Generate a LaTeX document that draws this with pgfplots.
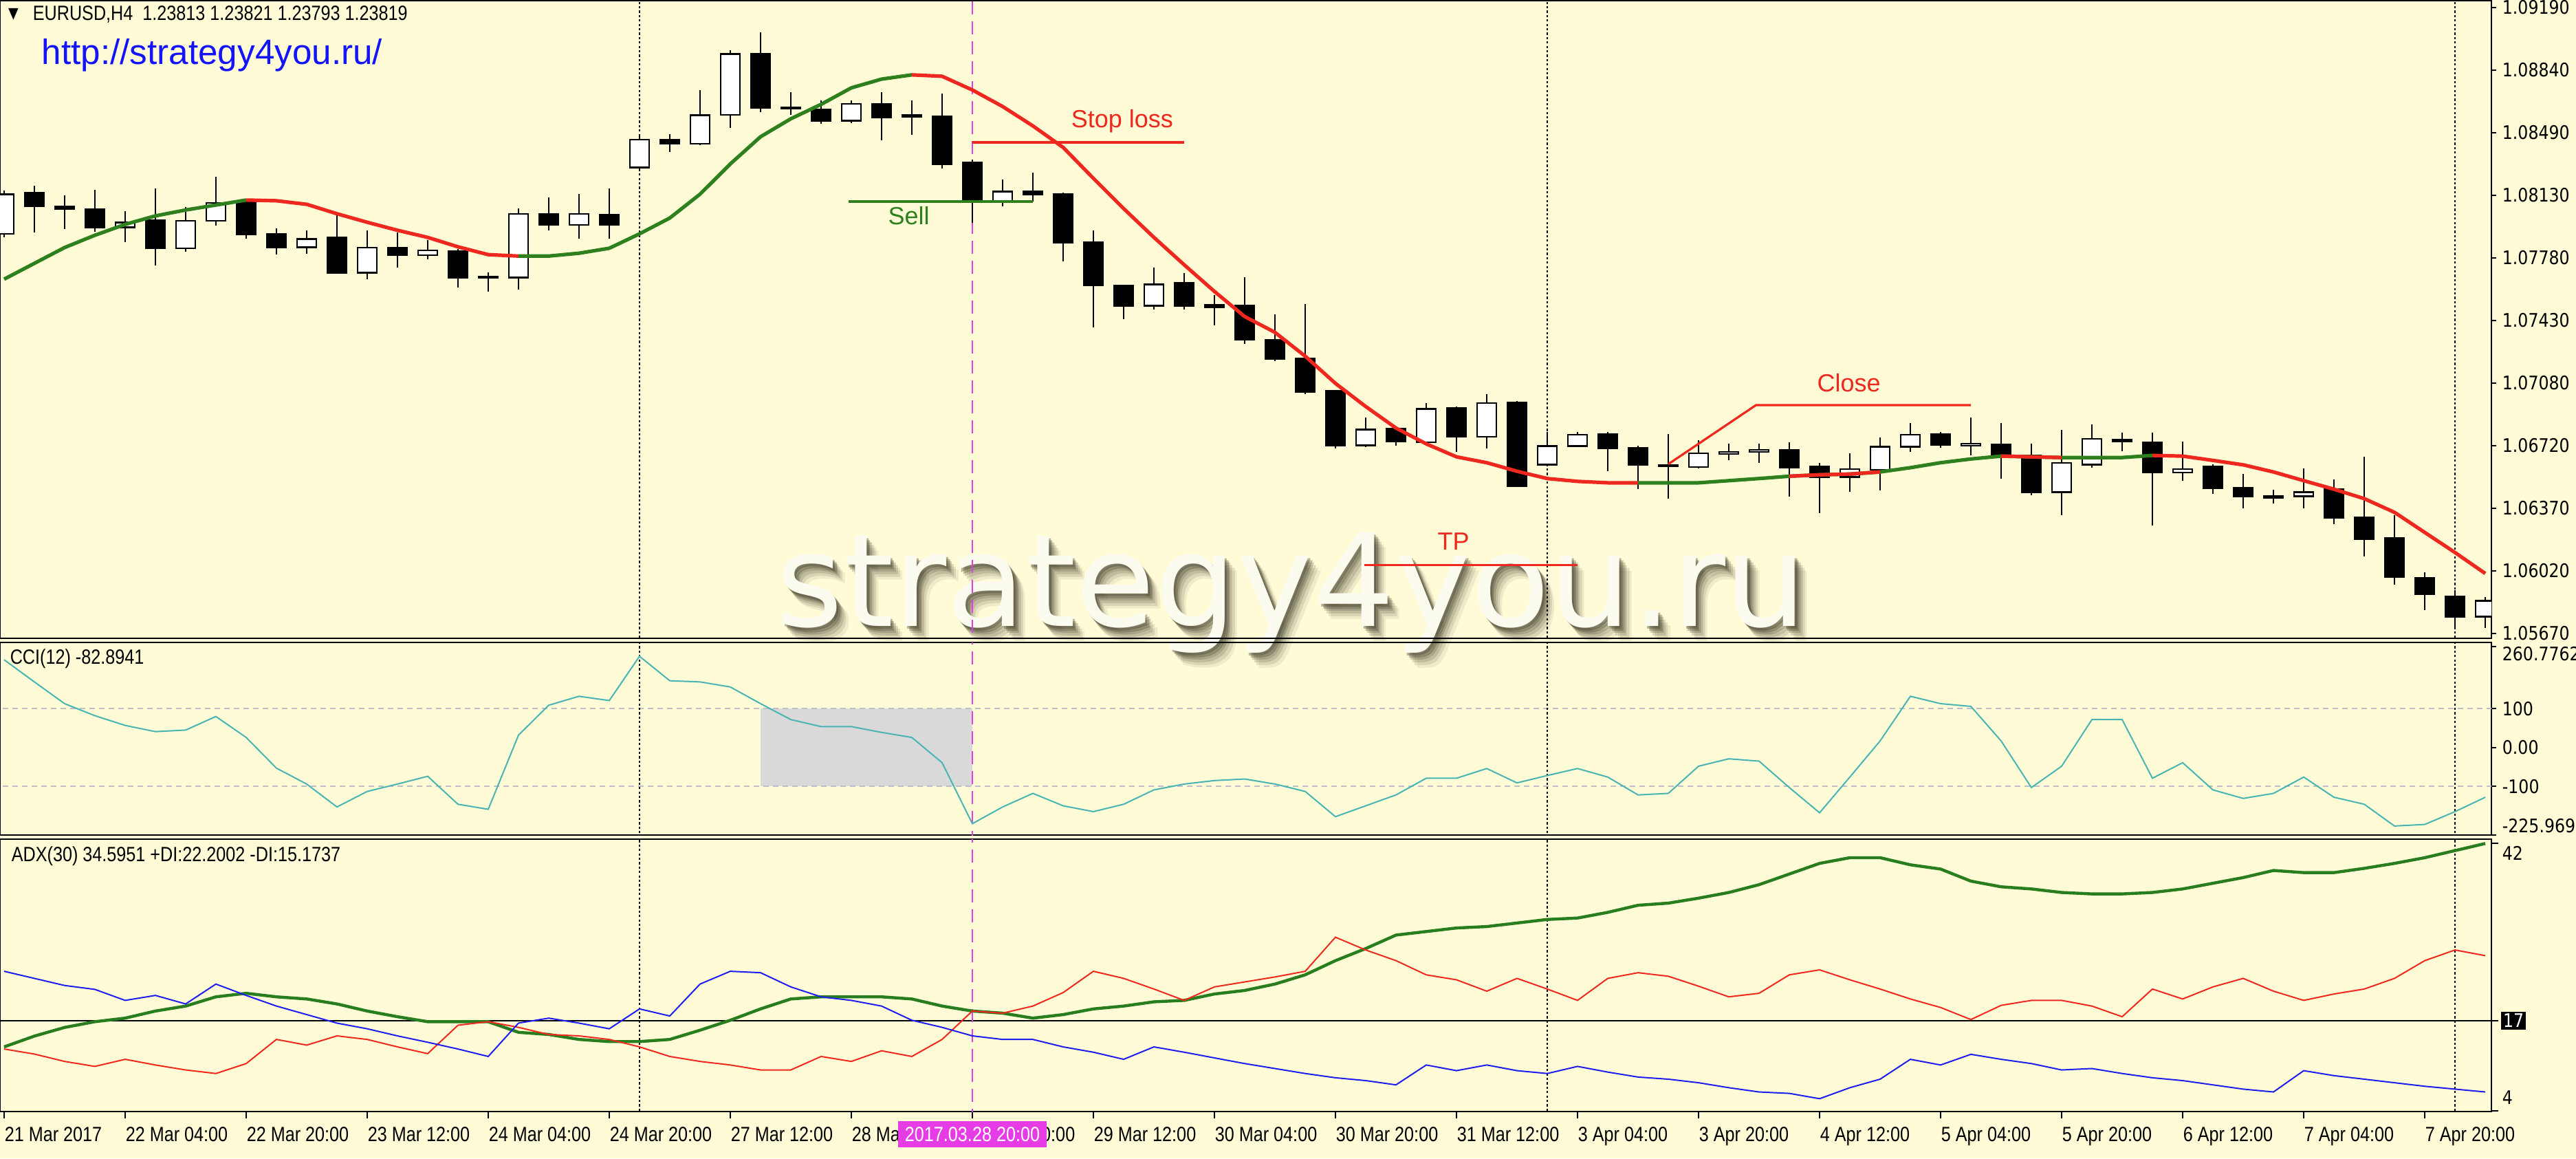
\documentclass[border=0pt]{standalone}
\usepackage{fontspec}
\usepackage{pgfplots}
\pgfplotsset{compat=1.18}
\usepackage{pgfplotstable}
\newfontfamily\mtfont[FakeStretch=0.84]{Liberation Sans}
\newfontfamily\axfont[FakeStretch=0.87]{DejaVu Sans}
\newfontfamily\arialfont{Liberation Sans}
\newfontfamily\wmfont{DejaVu Sans}
\definecolor{bg}{RGB}{255,251,214}
\definecolor{mtgreen}{RGB}{46,128,30}
\definecolor{mtred}{RGB}{238,40,30}
\definecolor{ccicol}{RGB}{72,180,180}
\definecolor{adxgreen}{RGB}{40,125,30}
\definecolor{diblue}{RGB}{30,30,240}
\definecolor{dired}{RGB}{240,40,30}
\definecolor{mtpink}{RGB}{230,60,230}
\definecolor{urlblue}{RGB}{20,20,250}
\definecolor{wmface}{RGB}{252,251,240}
\definecolor{wmshadow}{RGB}{60,56,36}
\definecolor{lvl}{RGB}{190,190,200}

% candle: index, low, body low, body high, high
\newcommand{\cw}[5]{%
 \addplot[black, line width=0.7pt] coordinates {(#1,#2) (#1,#5)};
 \addplot[black, line width=7.6pt, shorten <=-0.3pt, shorten >=-0.3pt] coordinates {(#1,#3) (#1,#4)};
 \addplot[white, line width=6.3pt, shorten <=0.35pt, shorten >=0.35pt] coordinates {(#1,#3) (#1,#4)};}
\newcommand{\cb}[5]{%
 \addplot[black, line width=0.7pt] coordinates {(#1,#2) (#1,#5)};
 \addplot[black, line width=7.6pt, shorten <=-0.3pt, shorten >=-0.3pt] coordinates {(#1,#3) (#1,#4)};}

\pgfplotstableread{
i ma
0 1.07661
1 1.07750
2 1.07839
3 1.07908
4 1.07969
5 1.08017
6 1.08050
7 1.08078
8 1.08106
9 1.08102
10 1.08082
11 1.08029
12 1.07981
13 1.07936
14 1.07896
15 1.07843
16 1.07799
17 1.07791
18 1.07791
19 1.07807
20 1.07835
21 1.07916
22 1.08005
23 1.08139
24 1.08309
25 1.08462
26 1.08563
27 1.08644
28 1.08737
29 1.08786
30 1.08810
31 1.08802
32 1.08725
33 1.08632
34 1.08523
35 1.08402
36 1.08228
37 1.08058
38 1.07896
39 1.07742
40 1.07592
41 1.07451
42 1.07362
43 1.07228
44 1.07075
45 1.06945
46 1.06824
47 1.06735
48 1.06662
49 1.06629
50 1.06581
51 1.06540
52 1.06524
53 1.06516
54 1.06516
55 1.06516
56 1.06516
57 1.06528
58 1.06540
59 1.06553
60 1.06561
61 1.06565
62 1.06577
63 1.06601
64 1.06629
65 1.06650
66 1.06666
67 1.06662
68 1.06658
69 1.06658
70 1.06658
71 1.06670
72 1.06666
73 1.06642
74 1.06617
75 1.06577
76 1.06528
77 1.06480
78 1.06427
79 1.06350
80 1.06237
81 1.06124
82 1.06006
}\matable

\pgfplotstableread{
i cci
0 226
1 169
2 113
3 82
4 57
5 41
6 45
7 80
8 26
9 -53
10 -94
11 -153
12 -113
13 -94
14 -74
15 -146
16 -159
17 32
18 109
19 132
20 121
21 235
22 172
23 169
24 156
25 113
26 72
27 54
28 54
29 39
30 26
31 -39
32 -196
33 -153
34 -118
35 -150
36 -165
37 -146
38 -109
39 -94
40 -85
41 -81
42 -94
43 -113
44 -178
45 -150
46 -122
47 -79
48 -79
49 -54
50 -91
51 -72
52 -54
53 -76
54 -122
55 -118
56 -48
57 -29
58 -35
59 -103
60 -168
61 -76
62 17
63 132
64 113
65 106
66 17
67 -103
68 -48
69 72
70 72
71 -79
72 -39
73 -109
74 -131
75 -118
76 -76
77 -128
78 -146
79 -202
80 -198
81 -165
82 -128
}\ccitable

\pgfplotstableread{
i adx red blue
0 13.35 13.05 24.0
1 14.87 12.34 23.0
2 16.09 11.3 22.0
3 16.9 10.6 21.45
4 17.4 11.6 19.9
5 18.4 10.8 20.6
6 19.1 10.1 19.4
7 20.4 9.6 22.2
8 20.9 11.0 20.6
9 20.4 14.4 19.1
10 20.1 13.6 17.9
11 19.4 14.9 16.7
12 18.4 14.4 15.9
13 17.6 13.35 14.9
14 16.9 12.4 14.0
15 16.9 16.4 13.05
16 16.9 16.9 12.0
17 15.4 16.1 16.7
18 15.1 15.1 17.4
19 14.4 14.9 16.7
20 14.1 14.4 15.9
21 14.1 13.35 18.7
22 14.4 12.0 17.7
23 15.7 11.3 22.2
24 17.1 10.8 24.0
25 18.7 10.1 23.8
26 20.1 10.1 21.8
27 20.4 12.0 20.4
28 20.4 11.3 19.9
29 20.4 12.8 19.1
30 20.1 12.0 17.1
31 19.1 14.4 16.1
32 18.4 18.4 14.9
33 18.1 18.1 14.4
34 17.4 19.1 14.4
35 17.9 21.0 13.35
36 18.7 24.0 12.6
37 19.1 23.0 11.6
38 19.7 21.5 13.35
39 19.9 19.9 12.6
40 20.8 21.8 11.8
41 21.3 22.5 11.0
42 22.2 23.2 10.3
43 23.5 24.0 9.6
44 25.5 28.8 9.0
45 27.2 27.0 8.6
46 29.1 25.5 8.0
47 29.6 23.5 10.8
48 30.1 22.8 10.0
49 30.3 21.2 10.8
50 30.8 23.0 10.0
51 31.3 21.5 9.6
52 31.5 19.9 10.6
53 32.3 23.0 9.8
54 33.3 23.8 9.1
55 33.6 23.3 8.8
56 34.3 21.9 8.3
57 35.1 20.4 7.6
58 36.2 20.9 7.0
59 37.7 23.5 6.8
60 39.2 24.2 6.05
61 40.0 22.8 7.6
62 40.0 21.5 8.8
63 39.0 20.1 11.6
64 38.4 18.9 10.8
65 36.7 17.2 12.3
66 35.9 19.2 11.6
67 35.6 19.9 11.0
68 35.1 19.9 10.1
69 34.9 19.1 10.3
70 34.9 17.6 9.6
71 35.1 21.5 9.0
72 35.6 20.1 8.6
73 36.4 21.8 8.0
74 37.2 23.0 7.4
75 38.2 21.2 7.0
76 37.9 19.9 10.0
77 37.9 20.8 9.3
78 38.5 21.5 8.8
79 39.2 23.0 8.3
80 40.0 25.5 7.8
81 41.0 27.0 7.4
82 42.0 26.2 7.0
}\adxtable

\pgfplotsset{mt/.style={
  scale only axis, width=905.75pt, xmin=-0.136, xmax=82.205,
  anchor=north west,
  axis line style={line width=0.6pt, black},
  ytick pos=right, yticklabel pos=right,
  tick align=outside, major tick length=1.75pt,
  tick style={line width=0.5pt, black},
  yticklabel style={font=\axfont\fontsize{6.8}{8}\selectfont, anchor=west, inner sep=0pt, xshift=2pt},
  scaled y ticks=false, clip=true}}

\begin{document}
\begin{tikzpicture}
\fill[bg] (0,0) rectangle (936.5pt,-421pt);
\useasboundingbox (0,0) rectangle (936.5pt,-421pt);

% watermark (behind chart)
\foreach \d/\o in {5.5/0.08,4.5/0.12,3.5/0.16,2.6/0.22,1.8/0.3,1.0/0.35}{
  \node[anchor=base, text=wmshadow, opacity=\o, font=\wmfont\fontsize{46.8}{50}\selectfont, inner sep=0pt, xshift=0.8*\d pt, yshift=-\d pt] at (469.5pt,-227.5pt) {strategy4you.ru};
}
\node[anchor=base, text=wmface, font=\wmfont\fontsize{46.8}{50}\selectfont, inner sep=0pt] at (469.5pt,-227.5pt) {strategy4you.ru};

% ---------------- main price panel
\begin{axis}[mt, at={(0pt,-0.25pt)}, height=231.75pt,
  ymin=1.056415, ymax=1.09227, xtick=\empty,
  ytick={1.09190,1.08838,1.08486,1.08134,1.07782,1.07430,1.07078,1.06726,1.06374,1.06022,1.05670},
  yticklabels={1.09190,1.08840,1.08490,1.08130,1.07780,1.07430,1.07080,1.06720,1.06370,1.06020,1.05670}]
\addplot[black, line width=0.6pt, dash pattern=on 0.8pt off 0.8pt] coordinates {(21,1.05) (21,1.10)};
\addplot[black, line width=0.6pt, dash pattern=on 0.8pt off 0.8pt] coordinates {(51,1.05) (51,1.10)};
\addplot[black, line width=0.6pt, dash pattern=on 0.8pt off 0.8pt] coordinates {(81,1.05) (81,1.10)};
\addplot[mtpink, line width=0.65pt, dash pattern=on 4.75pt off 2.5pt] coordinates {(32,1.05) (32,1.10)};
\cw{0}{1.07896}{1.07916}{1.08139}{1.08159}
\cb{1}{1.07924}{1.08070}{1.08147}{1.08187}
\cb{2}{1.07944}{1.08054}{1.08070}{1.08131}
\cb{3}{1.07928}{1.07953}{1.08054}{1.08163}
\cw{4}{1.07868}{1.07953}{1.07981}{1.08042}
\cb{5}{1.07738}{1.07835}{1.07993}{1.08171}
\cw{6}{1.07815}{1.07835}{1.07989}{1.08066}
\cw{7}{1.07961}{1.07989}{1.08090}{1.08236}
\cb{8}{1.07888}{1.07912}{1.08098}{1.08106}
\cb{9}{1.07799}{1.07839}{1.07916}{1.07948}
\cw{10}{1.07803}{1.07839}{1.07888}{1.07936}
\cb{11}{1.07690}{1.07698}{1.07896}{1.08025}
\cw{12}{1.07661}{1.07698}{1.07839}{1.07936}
\cb{13}{1.07726}{1.07795}{1.07839}{1.07924}
\cw{14}{1.07774}{1.07795}{1.07823}{1.07880}
\cb{15}{1.07613}{1.07669}{1.07819}{1.07831}
\cb{16}{1.07592}{1.07669}{1.07677}{1.07698}
\cw{17}{1.07604}{1.07669}{1.08029}{1.08058}
\cb{18}{1.07936}{1.07965}{1.08029}{1.08122}
\cw{19}{1.07888}{1.07965}{1.08029}{1.08139}
\cb{20}{1.07888}{1.07965}{1.08025}{1.08171}
\cw{21}{1.08268}{1.08288}{1.08446}{1.08478}
\cb{22}{1.08377}{1.08422}{1.08446}{1.08478}
\cw{23}{1.08414}{1.08422}{1.08584}{1.08725}
\cw{24}{1.08511}{1.08584}{1.08928}{1.08948}
\cb{25}{1.08600}{1.08624}{1.08928}{1.09049}
\cb{26}{1.08584}{1.08620}{1.08628}{1.08713}
\cb{27}{1.08535}{1.08551}{1.08616}{1.08665}
\cw{28}{1.08539}{1.08551}{1.08648}{1.08665}
\cb{29}{1.08442}{1.08572}{1.08648}{1.08713}
\cb{30}{1.08474}{1.08576}{1.08584}{1.08665}
\cb{31}{1.08284}{1.08309}{1.08576}{1.08705}
\cb{32}{1.07977}{1.08106}{1.08317}{1.08333}
\cw{33}{1.08070}{1.08098}{1.08155}{1.08220}
\cb{34}{1.08098}{1.08139}{1.08155}{1.08260}
\cb{35}{1.07762}{1.07868}{1.08139}{1.08147}
\cb{36}{1.07390}{1.07625}{1.07868}{1.07936}
\cb{37}{1.07435}{1.07511}{1.07625}{1.07628}
\cw{38}{1.07491}{1.07511}{1.07633}{1.07726}
\cb{39}{1.07491}{1.07511}{1.07641}{1.07694}
\cb{40}{1.07402}{1.07503}{1.07516}{1.07572}
\cb{41}{1.07297}{1.07321}{1.07511}{1.07673}
\cb{42}{1.07200}{1.07212}{1.07321}{1.07463}
\cb{43}{1.07014}{1.07026}{1.07216}{1.07520}
\cb{44}{1.06710}{1.06727}{1.07034}{1.07037}
\cw{45}{1.06718}{1.06727}{1.06816}{1.06884}
\cb{46}{1.06723}{1.06747}{1.06820}{1.06832}
\cw{47}{1.06739}{1.06743}{1.06933}{1.06965}
\cb{48}{1.06690}{1.06775}{1.06937}{1.06945}
\cw{49}{1.06710}{1.06775}{1.06965}{1.07014}
\cb{50}{1.06493}{1.06496}{1.06969}{1.06977}
\cw{51}{1.06609}{1.06617}{1.06723}{1.06803}
\cw{52}{1.06718}{1.06723}{1.06787}{1.06803}
\cb{53}{1.06581}{1.06710}{1.06791}{1.06803}
\cb{54}{1.06480}{1.06617}{1.06714}{1.06723}
\cb{55}{1.06427}{1.06609}{1.06617}{1.06791}
\cw{56}{1.06597}{1.06605}{1.06682}{1.06755}
\cw{57}{1.06642}{1.06678}{1.06690}{1.06735}
\cw{58}{1.06629}{1.06690}{1.06702}{1.06735}
\cb{59}{1.06439}{1.06601}{1.06702}{1.06743}
\cb{60}{1.06346}{1.06549}{1.06609}{1.06629}
\cw{61}{1.06464}{1.06549}{1.06593}{1.06682}
\cw{62}{1.06472}{1.06589}{1.06718}{1.06771}
\cw{63}{1.06690}{1.06718}{1.06787}{1.06852}
\cb{64}{1.06714}{1.06731}{1.06791}{1.06803}
\cw{65}{1.06670}{1.06725}{1.06737}{1.06884}
\cb{66}{1.06540}{1.06670}{1.06731}{1.06852}
\cb{67}{1.06447}{1.06464}{1.06670}{1.06735}
\cw{68}{1.06334}{1.06464}{1.06629}{1.06812}
\cw{69}{1.06601}{1.06617}{1.06763}{1.06844}
\cb{70}{1.06694}{1.06747}{1.06759}{1.06799}
\cb{71}{1.06277}{1.06573}{1.06743}{1.06799}
\cw{72}{1.06528}{1.06573}{1.06593}{1.06747}
\cb{73}{1.06455}{1.06484}{1.06609}{1.06621}
\cb{74}{1.06374}{1.06439}{1.06488}{1.06565}
\cb{75}{1.06399}{1.06431}{1.06443}{1.06476}
\cw{76}{1.06374}{1.06439}{1.06464}{1.06597}
\cb{77}{1.06282}{1.06318}{1.06480}{1.06536}
\cb{78}{1.06103}{1.06200}{1.06322}{1.06662}
\cb{79}{1.05942}{1.05986}{1.06205}{1.06334}
\cb{80}{1.05800}{1.05889}{1.05982}{1.06014}
\cb{81}{1.05691}{1.05764}{1.05877}{1.05913}
\cw{82}{1.05699}{1.05764}{1.05853}{1.05873}
% moving average
\addplot[mtgreen, line width=1.3pt, restrict x to domain=0:8] table[x=i,y=ma] {\matable};
\addplot[mtred, line width=1.3pt, restrict x to domain=8:17] table[x=i,y=ma] {\matable};
\addplot[mtgreen, line width=1.3pt, restrict x to domain=17:30] table[x=i,y=ma] {\matable};
\addplot[mtred, line width=1.3pt, restrict x to domain=30:54] table[x=i,y=ma] {\matable};
\addplot[mtgreen, line width=1.3pt, restrict x to domain=54:71] table[x=i,y=ma] {\matable};
\addplot[mtred, line width=1.3pt, restrict x to domain=59:62] table[x=i,y=ma] {\matable};
\addplot[mtred, line width=1.3pt, restrict x to domain=66:68] table[x=i,y=ma] {\matable};
\addplot[mtred, line width=1.3pt, restrict x to domain=71:82] table[x=i,y=ma] {\matable};
% annotations
\addplot[mtgreen, line width=0.8pt] coordinates {(27.9,1.08098) (34.0,1.08098)};
\node[text=mtgreen, font=\arialfont\fontsize{9}{10}\selectfont] at (axis cs:29.9,1.08016) {Sell};
\addplot[mtred, line width=0.8pt] coordinates {(32.0,1.08430) (39.0,1.08430)};
\node[text=mtred, font=\arialfont\fontsize{9}{10}\selectfont] at (axis cs:36.95,1.08551) {Stop loss};
\addplot[mtred, line width=0.8pt] coordinates {(44.95,1.06055) (52.0,1.06055)};
\node[text=mtred, font=\arialfont\fontsize{9}{10}\selectfont] at (axis cs:47.9,1.06188) {TP};
\addplot[mtred, line width=0.8pt] coordinates {(55,1.06621) (57.9,1.06953) (65,1.06953)};
\node[text=mtred, font=\arialfont\fontsize{9}{10}\selectfont] at (axis cs:60.97,1.07078) {Close};
\end{axis}

% ---------------- CCI panel
\begin{axis}[mt, at={(0pt,-233.5pt)}, height=70pt,
  ymin=-225.3, ymax=270.6, xtick=\empty,
  ytick={-225.3,-100,0,100,260.7762}, yticklabels={{},-100,0.00,100,{}}]
\addplot[fill=black!15, draw=none] coordinates {(25,-100) (32,-100) (32,100) (25,100)} -- cycle;
\addplot[lvl, line width=0.5pt, dash pattern=on 2pt off 1.5pt] coordinates {(-1,100) (83,100)};
\addplot[lvl, line width=0.5pt, dash pattern=on 2pt off 1.5pt] coordinates {(-1,-100) (83,-100)};
\addplot[black, line width=0.6pt, dash pattern=on 0.8pt off 0.8pt] coordinates {(21,-300) (21,300)};
\addplot[black, line width=0.6pt, dash pattern=on 0.8pt off 0.8pt] coordinates {(51,-300) (51,300)};
\addplot[black, line width=0.6pt, dash pattern=on 0.8pt off 0.8pt] coordinates {(81,-300) (81,300)};
\addplot[mtpink, line width=0.65pt, dash pattern=on 4.75pt off 2.5pt] coordinates {(32,-300) (32,300)};
\addplot[ccicol, line width=0.5pt] table[x=i,y=cci] {\ccitable};
\end{axis}

% ---------------- ADX panel
\begin{axis}[mt, at={(0pt,-305pt)}, height=99pt,
  ymin=4.24, ymax=42.61,
  ytick={4.3,17,42}, yticklabels={{},{},{}},
  xtick={0,4,...,80}, xtick pos=left, major tick length=2.5pt,
  xticklabels={21 Mar 2017,22 Mar 04:00,22 Mar 20:00,23 Mar 12:00,24 Mar 04:00,24 Mar 20:00,27 Mar 12:00,28 Mar 04:00,28 Mar 20:00,29 Mar 12:00,30 Mar 04:00,30 Mar 20:00,31 Mar 12:00,3 Apr 04:00,3 Apr 20:00,4 Apr 12:00,5 Apr 04:00,5 Apr 20:00,6 Apr 12:00,7 Apr 04:00,7 Apr 20:00},
  xticklabel style={font=\mtfont\fontsize{7.5}{8}\selectfont, anchor=north west, inner sep=0pt, yshift=-3pt}]
\addplot[black, line width=0.45pt] coordinates {(-1,17) (83,17)};
\addplot[black, line width=0.6pt, dash pattern=on 0.8pt off 0.8pt] coordinates {(21,0) (21,50)};
\addplot[black, line width=0.6pt, dash pattern=on 0.8pt off 0.8pt] coordinates {(51,0) (51,50)};
\addplot[black, line width=0.6pt, dash pattern=on 0.8pt off 0.8pt] coordinates {(81,0) (81,50)};
\addplot[mtpink, line width=0.65pt, dash pattern=on 4.75pt off 2.5pt] coordinates {(32,0) (32,50)};
\addplot[adxgreen, line width=1.1pt] table[x=i,y=adx] {\adxtable};
\addplot[dired, line width=0.5pt] table[x=i,y=red] {\adxtable};
\addplot[diblue, line width=0.5pt] table[x=i,y=blue] {\adxtable};
\end{axis}

% ---------------- texts
\node[anchor=center, inner sep=0pt, font=\axfont\fontsize{5.5}{6}\selectfont] at (4.9pt,-5.25pt) {▼};
\node[anchor=west, inner sep=0pt, font=\mtfont\fontsize{7.5}{8}\selectfont] at (11.75pt,-5.25pt) {EURUSD,H4\ \ 1.23813 1.23821 1.23793 1.23819};
\node[anchor=west, inner sep=0pt, text=urlblue, font=\arialfont\fontsize{12.8}{14}\selectfont] at (15pt,-20pt) {http://strategy4you.ru/};
\node[anchor=west, inner sep=0pt, font=\mtfont\fontsize{7.5}{8}\selectfont] at (3.5pt,-239.5pt) {CCI(12) -82.8941};
\node[anchor=west, inner sep=0pt, font=\mtfont\fontsize{7.5}{8}\selectfont] at (4pt,-311.25pt) {ADX(30) 34.5951 +DI:22.2002 -DI:15.1737};
\node[anchor=west, inner sep=0pt, font=\axfont\fontsize{6.8}{8}\selectfont] at (909.5pt,-237.75pt) {260.7762};
\node[anchor=west, inner sep=0pt, font=\axfont\fontsize{6.8}{8}\selectfont] at (909.5pt,-300.25pt) {-225.9693};
\node[anchor=west, inner sep=0pt, font=\axfont\fontsize{6.8}{8}\selectfont] at (909.5pt,-310pt) {42};
\node[anchor=west, inner sep=0pt, font=\axfont\fontsize{6.8}{8}\selectfont] at (909.5pt,-399pt) {4};
\node[anchor=west, inner sep=0.8pt, fill=black, text=white, font=\axfont\fontsize{6.8}{8}\selectfont] at (909pt,-371pt) {17};
\node[fill=mtpink, text=white, inner sep=0pt, minimum width=54pt, minimum height=9.5pt, font=\mtfont\fontsize{7.5}{8}\selectfont] at (353.5pt,-412.25pt) {2017.03.28 20:00};
\end{tikzpicture}
\end{document}
